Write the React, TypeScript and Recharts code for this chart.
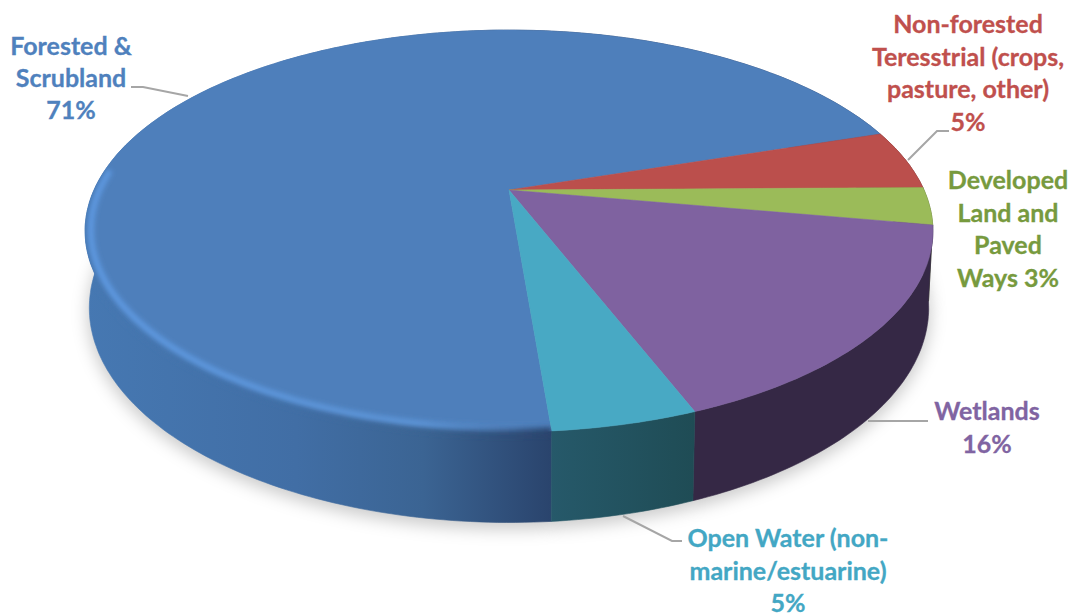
import { PieChart, Pie } from "recharts";

const categories = [
  "Forested & Scrubland",
  "Non-forested Terrestrial",
  "Developed Land and Paved Ways",
  "Wetlands",
  "Open Water",
];
const shares = [71.3, 4.8, 3, 16.3, 4.6];
const topColors = ["#4e7fbb", "#bb4f4c", "#9bbb59", "#7f62a0", "#48a9c4"];
const labelColors = ["#4f81bd", "#c0504d", "#779a3e", "#8064a2", "#43a7c4"];
const labelLines = [
  ["Forested &", "Scrubland", "71%"],
  ["Non-forested", "Teresstrial (crops,", "pasture, other)", "5%"],
  ["Developed", "Land and", "Paved", "Ways 3%"],
  ["Wetlands", "16%"],
  ["Open Water (non-", "marine/estuarine)", "5%"],
];

const data = categories.map((name, i) => ({
  name,
  value: shares[i],
  fill: topColors[i],
}));

// label layout: centre x, first baseline, line step
const labelPos = [
  { x: 71, y: 55, step: 32 },
  { x: 968, y: 33, step: 32.7 },
  { x: 1008, y: 189, step: 32.7 },
  { x: 987, y: 420, step: 33 },
  { x: 788, y: 547, step: 32.5 },
];
const leaders = [
  "131,87 143,87 188,96",
  "908,160 937,131 949,131",
  "",
  "868,421 928,421",
  "623,516 672,541 682,541",
];

const wallStops = [
  [[0, "#4678b2"], [0.25, "#416ea5"], [0.4, "#3b6493"], [0.55, "#2a446d"], [1, "#2a446d"]],
  [[0, "#602826"], [1, "#602826"]],
  [[0, "#4e5f2c"], [1, "#4e5f2c"]],
  [[0, "#352845"], [1, "#352845"]],
  [[0.55, "#26596a"], [0.72, "#1f4c55"]],
];

// perspective of the tilted disc
const TILT = 0.204;
const FLAT = 0.464;
const DEPTH = 74;
const TAPER = 0.01;

const project = (p: any, deg: number, r = 1, z = 0) => {
  const a = (deg * Math.PI) / 180;
  const u = r * Math.cos(a);
  const v = r * Math.sin(a);
  const w = 1 + TILT * v;
  const s = 1 - TAPER * z;
  const R = p.outerRadius;
  return [
    p.cx + (R * s * u) / w,
    p.cy - (R * FLAT * s * v) / w + (DEPTH * z) / w,
  ];
};

const arc = (p: any, from: number, to: number, r = 1, z = 0) => {
  const n = Math.max(2, Math.ceil(Math.abs(to - from)));
  const pts: number[][] = [];
  for (let i = 0; i <= n; i++) pts.push(project(p, from + ((to - from) * i) / n, r, z));
  return pts;
};

const toPath = (pts: number[][], close = false) =>
  "M" + pts.map((q) => q[0].toFixed(1) + " " + q[1].toFixed(1)).join("L") + (close ? "Z" : "");

const ShadowSlice = (p: any) => (
  <path
    d={toPath([[p.cx, p.cy + DEPTH], ...arc(p, p.startAngle, p.endAngle, 1.005, 1.06)], true)}
    fill="#000"
    fillOpacity={0.2}
    filter="url(#shadowBlur)"
  />
);

const WallSlice = (p: any) => {
  const i = categories.indexOf(p.name);
  const top = arc(p, p.startAngle, p.endAngle);
  const bottom = arc(p, p.endAngle, p.startAngle, 1, 1);
  return <path d={toPath([...top, ...bottom], true)} fill={`url(#wall${i})`} stroke={`url(#wall${i})`} strokeWidth={0.6} />;
};

const TopSlice = (p: any) => (
  <path
    d={toPath([[p.cx, p.cy], ...arc(p, p.startAngle, p.endAngle)], true)}
    fill={p.fill}
    stroke={p.fill}
    strokeWidth={0.5}
  />
);

const RimSlice = (p: any) => {
  const i = categories.indexOf(p.name);
  const from = Math.min(p.startAngle, -3);
  const to = Math.max(p.endAngle, -186);
  if (from <= to) return null;
  const wedge = toPath([[p.cx, p.cy], ...arc(p, p.startAngle, p.endAngle)], true);
  const strip = toPath([...arc(p, from, to), ...arc(p, to, from, 1, 1)], true);
  return (
    <g clipPath={`url(#rimClip${i})`}>
      <clipPath id={`rimClip${i}`}>
        <path d={wedge + strip} />
      </clipPath>
      <path d={toPath(arc(p, from, to, 1))} fill="none" stroke={`url(#wall${i})`} strokeWidth={8} filter="url(#rimBlur)" />
      {i === 0 && (
        <path d={toPath(arc(p, from, to, 0.987))} fill="none" stroke="url(#rimLight)" strokeWidth={6} filter="url(#rimBlur)" />
      )}
    </g>
  );
};

const renderLabel = (props: any) => {
  const i = props.index;
  const pos = labelPos[i];
  return (
    <g>
      {leaders[i] && <polyline points={leaders[i]} fill="none" stroke="#a6a6a6" strokeWidth={2} />}
      <text
        textAnchor="middle"
        fill={labelColors[i]}
        stroke={labelColors[i]}
        strokeWidth={0.3}
        fontFamily="Lato, sans-serif"
        fontWeight={700}
        fontSize={25}
      >
        {labelLines[i].map((line, k) => (
          <tspan key={k} x={pos.x} y={pos.y + k * pos.step}>
            {line}
          </tspan>
        ))}
      </text>
    </g>
  );
};

const pieProps = {
  data,
  dataKey: "value",
  nameKey: "name",
  cx: 509,
  cy: 190,
  outerRadius: 415,
  startAngle: -85.3,
  endAngle: -445.3,
  stroke: "none",
  isAnimationActive: false,
};

export default function App() {
  return (
    <div style={{ position: "absolute", left: 0, top: 0, width: 1072, height: 614 }}>
      <PieChart width={1072} height={614} margin={{ top: 0, right: 0, bottom: 0, left: 0 }}>
        <defs>
          <filter id="shadowBlur" filterUnits="userSpaceOnUse" x="0" y="0" width="1072" height="614">
            <feGaussianBlur stdDeviation="8" />
          </filter>
          <filter id="rimBlur" filterUnits="userSpaceOnUse" x="0" y="0" width="1072" height="614">
            <feGaussianBlur stdDeviation="2.5" />
          </filter>
          <linearGradient id="rimLight" gradientUnits="userSpaceOnUse" x1="84" y1="0" x2="560" y2="0">
            <stop offset="0" stopColor="#5e9ae2" />
            <stop offset="0.7" stopColor="#5f98dc" />
            <stop offset="1" stopColor="#5f98dc" stopOpacity={0} />
          </linearGradient>
          {wallStops.map((stops, i) => (
            <linearGradient key={i} id={`wall${i}`} gradientUnits="userSpaceOnUse" x1="84" y1="0" x2="932" y2="0">
              {stops.map((s, k) => (
                <stop key={k} offset={s[0] as number} stopColor={s[1] as string} />
              ))}
            </linearGradient>
          ))}
        </defs>
        <Pie {...pieProps} shape={ShadowSlice} />
        <Pie {...pieProps} shape={WallSlice} />
        <Pie {...pieProps} shape={TopSlice} />
        <Pie {...pieProps} shape={RimSlice} label={renderLabel} labelLine={false} />
      </PieChart>
    </div>
  );
}
